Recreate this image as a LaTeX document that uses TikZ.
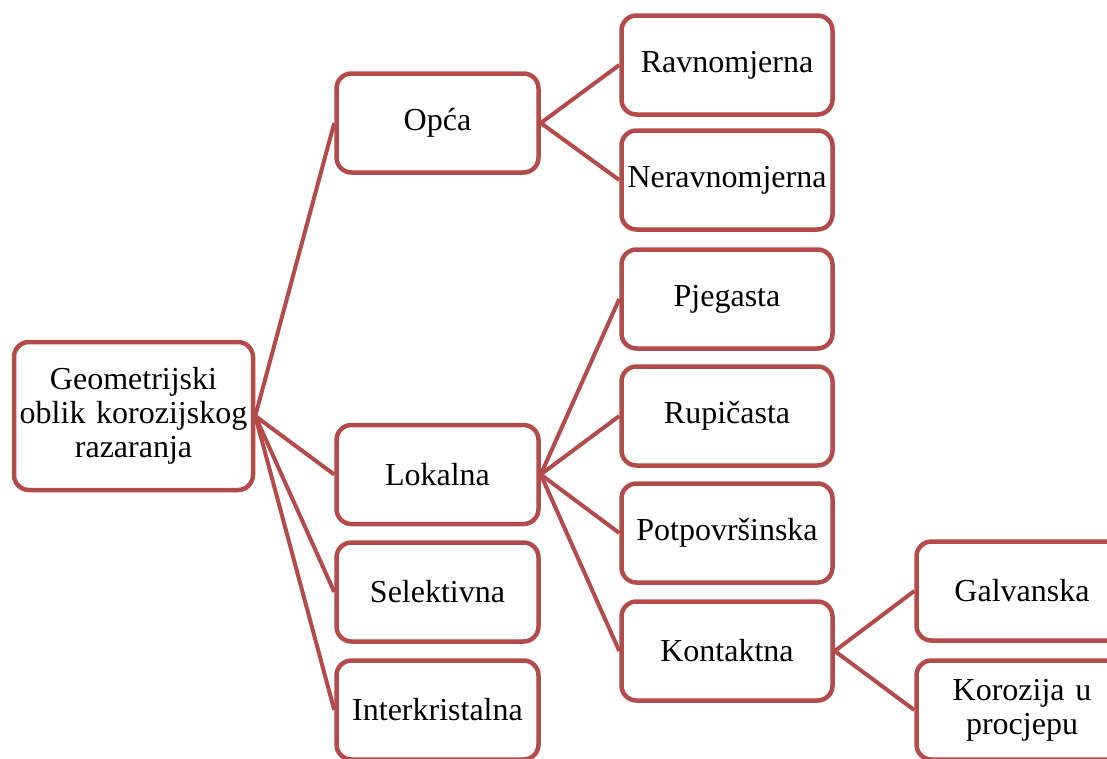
\documentclass[tikz,border=0pt]{standalone}
\usepackage{fontspec}
\setmainfont{Liberation Serif}
\definecolor{boxred}{RGB}{178,75,73}
\begin{document}
\begin{tikzpicture}[x=1pt,y=-1pt,
  box/.style={draw=boxred,line width=4.5pt,fill=white,rounded corners=15pt,
    align=center,font=\fontsize{32}{34}\selectfont,inner sep=1pt},
  rootbox/.style={box,minimum width=239pt,minimum height=148pt,text width=237pt},
  c1/.style={box,minimum width=201pt,minimum height=99pt,text width=200pt},
  c2/.style={box,minimum width=211pt,minimum height=99pt,text width=209pt},
  link/.style={draw=boxred,line width=4pt}]
\useasboundingbox (0,0) rectangle (1107,758);
\clip (0,0) rectangle (1107,758);
\node[rootbox] (root) at (133.5,416) {Geometrijski\\oblik korozijskog\\razaranja};
\node[c1] (opca) at (437.5,123) {Opća};
\node[c1] (lok) at (437.5,474.5) {Lokalna};
\node[c1] (sel) at (437.5,592) {Selektivna};
\node[c1] (inter) at (437.5,710) {Interkristalna};
\node[c2] (ravn) at (727,65) {Ravnomjerna};
\node[c2] (nerav) at (727,180) {Neravnomjerna};
\node[c2] (pjeg) at (727,299) {Pjegasta};
\node[c2] (rup) at (727,416) {Rupičasta};
\node[c2] (potp) at (727,533) {Potpovršinska};
\node[c2] (kont) at (727,651) {Kontaktna};
\node[c2] (galv) at (1022,591) {Galvanska};
\node[c2] (koroz) at (1022,710) {Korozija u\\procjepu};
\draw[link] (root.east) -- (opca.west);
\draw[link] (root.east) -- (lok.west);
\draw[link] (root.east) -- (sel.west);
\draw[link] (root.east) -- (inter.west);
\draw[link] (opca.east) -- (ravn.west);
\draw[link] (opca.east) -- (nerav.west);
\draw[link] (lok.east) -- (pjeg.west);
\draw[link] (lok.east) -- (rup.west);
\draw[link] (lok.east) -- (potp.west);
\draw[link] (lok.east) -- (kont.west);
\draw[link] (kont.east) -- (galv.west);
\draw[link] (kont.east) -- (koroz.west);
\end{tikzpicture}
\end{document}
